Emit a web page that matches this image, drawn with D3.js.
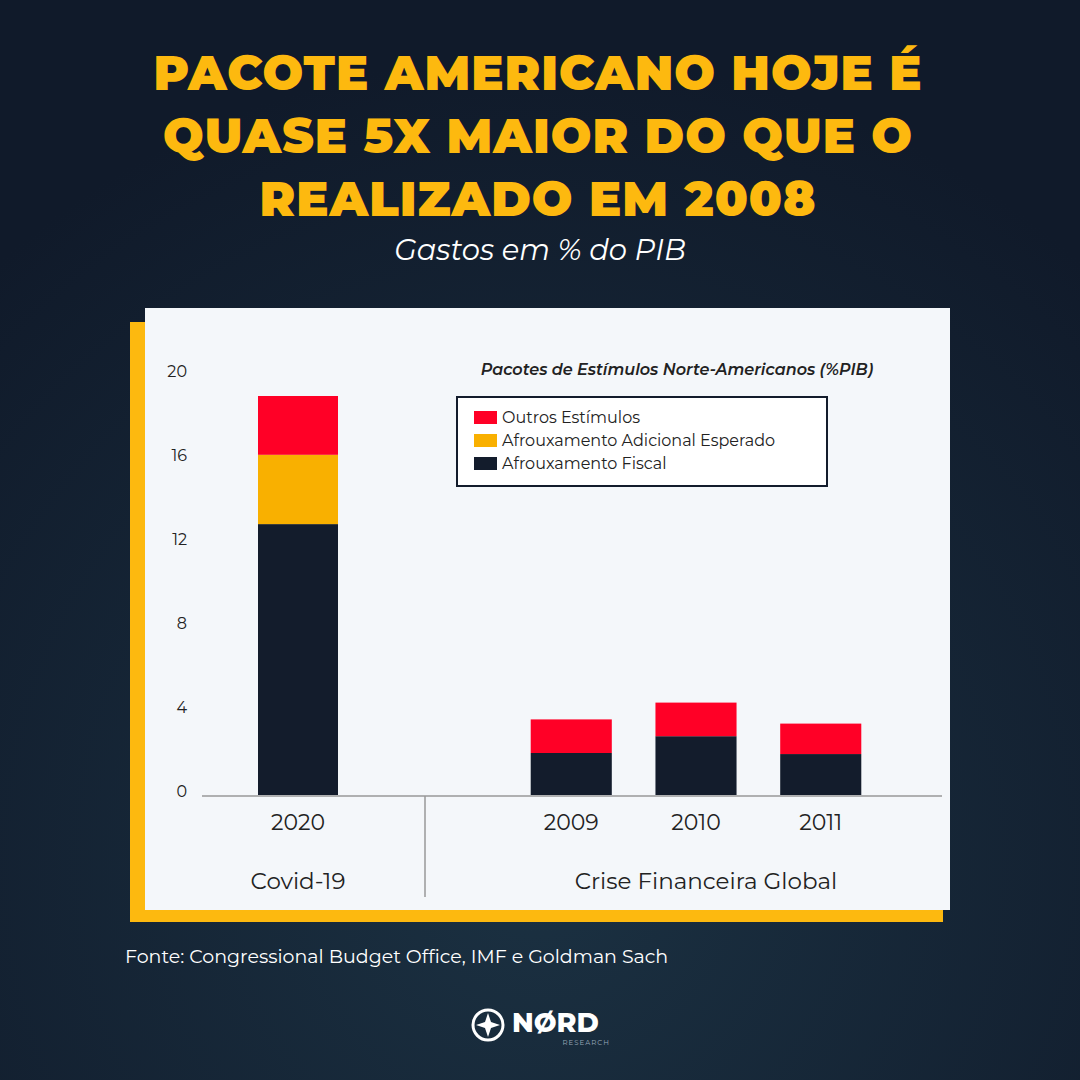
<!DOCTYPE html>
<meta charset="utf-8">
<style>
  body { margin: 0; background: #111b2b; }
  text { font-family: Montserrat, "Open Sans", sans-serif; }
</style>
<body>
<script src="https://cdn.jsdelivr.net/npm/d3@7"></script>
<script>
  // data
  const years = ["2020", "2009", "2010", "2011"];
  const groups = ["Covid-19", "Crise Financeira Global"];
  const groupOf = ["Covid-19", "Crise Financeira Global", "Crise Financeira Global", "Crise Financeira Global"];
  const fiscal = [12.9, 2.0, 2.8, 1.95];
  const esperado = [3.3, 0, 0, 0];
  const outros = [2.8, 1.6, 1.6, 1.45];
  const seriesNames = ["Afrouxamento Fiscal", "Afrouxamento Adicional Esperado", "Outros Estímulos"];
  const yTicks = [0, 4, 8, 12, 16, 20];

  const colors = { "Afrouxamento Fiscal": "#131c2c", "Afrouxamento Adicional Esperado": "#f9b000", "Outros Estímulos": "#ff0026" };

  const svg = d3.select("body").append("svg").attr("width", 1080).attr("height", 1080);

  const bg = svg.append("defs").append("radialGradient").attr("id", "bg").attr("cx", "50%").attr("cy", "80%").attr("r", "75%");
  bg.append("stop").attr("offset", "0%").attr("stop-color", "#1b3142");
  bg.append("stop").attr("offset", "100%").attr("stop-color", "#101a2a");
  svg.append("rect").attr("width", 1080).attr("height", 1080).attr("fill", "url(#bg)");

  // title
  ["PACOTE AMERICANO HOJE É", "QUASE 5X MAIOR DO QUE O", "REALIZADO EM 2008"].forEach((t, i) => {
    svg.append("text").attr("x", 538).attr("y", 90 + i * 63).attr("text-anchor", "middle")
      .attr("font-size", 48).attr("font-weight", 900).attr("fill", "#fdb90f").attr("letter-spacing", 1).text(t);
  });
  svg.append("text").attr("x", 540).attr("y", 260).attr("text-anchor", "middle")
    .attr("font-size", 29).attr("font-style", "italic").attr("fill", "#fff").text("Gastos em % do PIB");

  // panel
  svg.append("rect").attr("x", 130).attr("y", 322).attr("width", 813).attr("height", 600).attr("fill", "#fdb90f");
  svg.append("rect").attr("x", 145).attr("y", 308).attr("width", 805).attr("height", 602).attr("fill", "#f4f7fa");

  const y = d3.scaleLinear().domain([0, 20]).range([795, 375]);
  const inner = {
    "Covid-19": d3.scaleBand().domain(["2020"]).range([258, 338]),
    "Crise Financeira Global": d3.scaleBand().domain(["2009", "2010", "2011"]).range([512, 880]).paddingInner(0.35).paddingOuter(0.15)
  };

  // y axis labels
  svg.append("g").selectAll("text").data(yTicks).join("text")
    .attr("x", 187).attr("y", d => y(d) + 2).attr("text-anchor", "end")
    .attr("font-size", 16).attr("fill", "#222").text(d => d);

  // bars
  const rows = years.map((yr, i) => ({ year: yr, group: groupOf[i],
    "Afrouxamento Fiscal": fiscal[i], "Afrouxamento Adicional Esperado": esperado[i], "Outros Estímulos": outros[i] }));
  const stack = d3.stack().keys(seriesNames)(rows);
  svg.append("g").selectAll("g").data(stack).join("g").attr("fill", d => colors[d.key])
    .selectAll("rect").data(d => d).join("rect")
    .attr("x", d => inner[d.data.group](d.data.year))
    .attr("width", d => inner[d.data.group].bandwidth())
    .attr("y", d => y(d[1])).attr("height", d => y(d[0]) - y(d[1]));

  // x axis
  svg.append("line").attr("x1", 202).attr("x2", 942).attr("y1", 796).attr("y2", 796).attr("stroke", "#999").attr("stroke-width", 1.5);
  svg.append("line").attr("x1", 425).attr("x2", 425).attr("y1", 796).attr("y2", 897).attr("stroke", "#999").attr("stroke-width", 1.5);
  rows.forEach(r => {
    const s = inner[r.group];
    svg.append("text").attr("x", s(r.year) + s.bandwidth() / 2).attr("y", 830).attr("text-anchor", "middle")
      .attr("font-size", 22).attr("fill", "#222").text(r.year);
  });
  const gc = { "Covid-19": 298, "Crise Financeira Global": 706 };
  groups.forEach(g => {
    svg.append("text").attr("x", gc[g]).attr("y", 889).attr("text-anchor", "middle")
      .attr("font-size", 23).attr("fill", "#222").text(g);
  });

  // legend
  svg.append("text").attr("x", 677).attr("y", 375).attr("text-anchor", "middle").attr("font-size", 16)
    .attr("font-style", "italic").attr("font-weight", 600).attr("fill", "#222").text("Pacotes de Estímulos Norte-Americanos (%PIB)");
  svg.append("rect").attr("x", 457).attr("y", 397).attr("width", 370).attr("height", 89)
    .attr("fill", "#fff").attr("stroke", "#131c2c").attr("stroke-width", 2);
  const leg = svg.append("g").selectAll("g").data(seriesNames.slice().reverse()).join("g")
    .attr("transform", (d, i) => `translate(474,${411 + i * 23})`);
  leg.append("rect").attr("width", 23).attr("height", 13).attr("fill", d => colors[d]);
  leg.append("text").attr("x", 28).attr("y", 12).attr("font-size", 16).attr("fill", "#222").text(d => d);

  // source
  svg.append("text").attr("x", 125).attr("y", 963).attr("font-size", 19).attr("fill", "#fff")
    .text("Fonte: Congressional Budget Office, IMF e Goldman Sach");

  // logo
  svg.append("circle").attr("cx", 488).attr("cy", 1025).attr("r", 15).attr("fill", "none").attr("stroke", "#fff").attr("stroke-width", 3);
  svg.append("path").attr("d", "M488,1013 L491,1022 L500,1025 L491,1028 L488,1037 L485,1028 L476,1025 L485,1022 Z").attr("fill", "#fff");
  svg.append("text").attr("x", 512).attr("y", 1032).attr("font-size", 27).attr("font-weight", 800).attr("fill", "#fff").text("NØRD");
  svg.append("text").attr("x", 610).attr("y", 1045).attr("text-anchor", "end").attr("font-size", 7).attr("fill", "#9ab").attr("letter-spacing", 1).text("RESEARCH");
</script>
</body>
